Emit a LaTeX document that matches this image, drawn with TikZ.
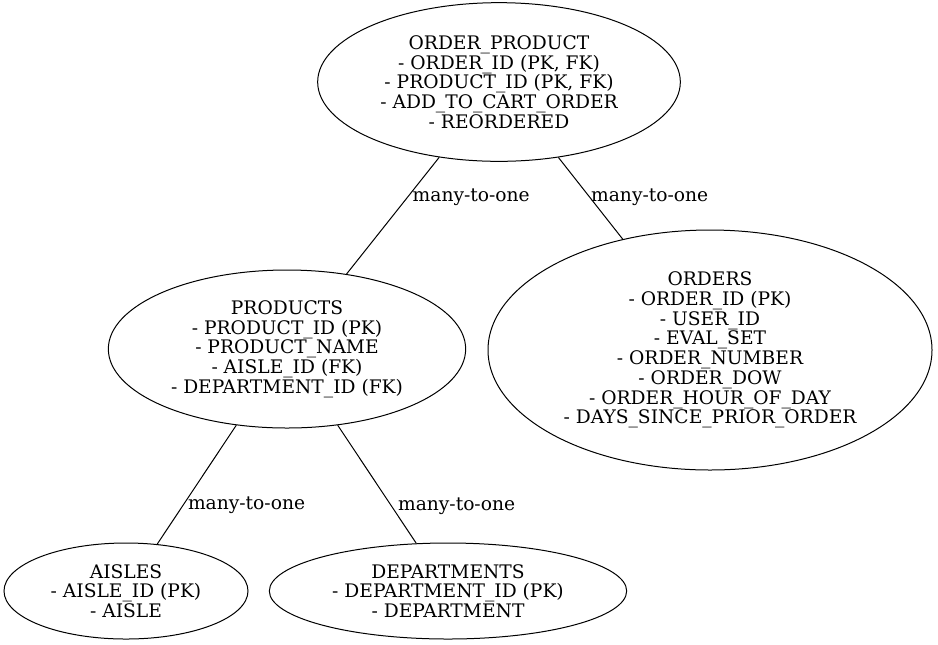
\documentclass[tikz,border=0pt]{standalone}
\usepackage{fontspec}
\setmainfont{DejaVu Serif}
\usepackage{tikz}
\usetikzlibrary{shapes.geometric,calc}
\tikzset{
  erentity/.style={draw=black, ellipse, inner sep=0pt, align=center, line width=0.75pt, font=\fontsize{14}{14.8}\selectfont},
  errel/.style={draw=black, line width=0.75pt},
  errellabel/.style={anchor=west, inner sep=2pt, yshift=-2pt, font=\fontsize{14}{14.8}\selectfont}
}

\begin{document}
\begin{tikzpicture}[x=0.75pt, y=-0.75pt]
  \useasboundingbox (0,0) rectangle (938,644);
  \node[erentity, minimum width=272pt, minimum height=119pt] (orderprod) at (499,82) {ORDER\_PRODUCT\\- ORDER\_ID (PK, FK)\\- PRODUCT\_ID (PK, FK)\\- ADD\_TO\_CART\_ORDER\\- REORDERED};
  \node[erentity, minimum width=268pt, minimum height=118.5pt] (products) at ($(orderprod)+(-212,267)$) {PRODUCTS\\- PRODUCT\_ID (PK)\\- PRODUCT\_NAME\\- AISLE\_ID (FK)\\- DEPARTMENT\_ID (FK)};
  \node[erentity, minimum width=333pt, minimum height=180pt] (orders) at ($(orderprod)+(211,268)$) {ORDERS\\- ORDER\_ID (PK)\\- USER\_ID\\- EVAL\_SET\\- ORDER\_NUMBER\\- ORDER\_DOW\\- ORDER\_HOUR\_OF\_DAY\\- DAYS\_SINCE\_PRIOR\_ORDER};
  \node[erentity, minimum width=183pt, minimum height=72pt] (aisles) at ($(products)+(-161,242)$) {AISLES\\- AISLE\_ID (PK)\\- AISLE};
  \node[erentity, minimum width=268pt, minimum height=72pt] (departments) at ($(products)+(161,242)$) {DEPARTMENTS\\- DEPARTMENT\_ID (PK)\\- DEPARTMENT};
  \draw[errel] (orderprod) -- node[errellabel, pos=0.32] {many-to-one} (products);
  \draw[errel] (orderprod) -- node[errellabel, pos=0.46] {many-to-one} (orders);
  \draw[errel] (products) -- node[errellabel, pos=0.65] {many-to-one} (aisles);
  \draw[errel] (products) -- node[errellabel, pos=0.66, xshift=4pt] {many-to-one} (departments);
\end{tikzpicture}
\end{document}
